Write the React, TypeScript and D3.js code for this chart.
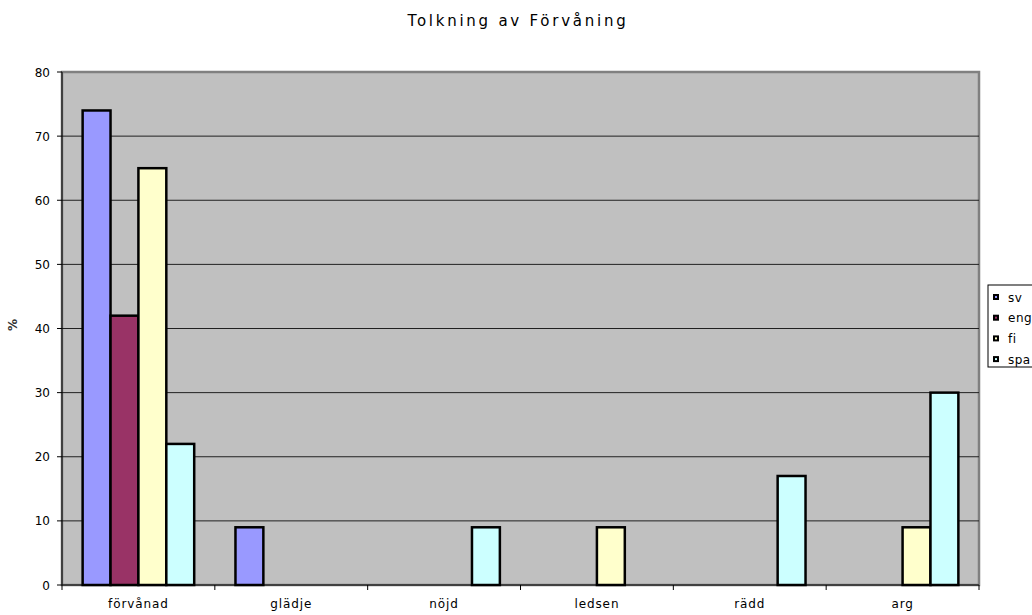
import React from "react";
import * as d3 from "d3";

const categories = ["förvånad", "glädje", "nöjd", "ledsen", "rädd", "arg"];
const seriesNames = ["sv", "eng", "fi", "spa"];
const svValues = [74, 9, 0, 0, 0, 0];
const engValues = [42, 0, 0, 0, 0, 0];
const fiValues = [65, 0, 0, 9, 0, 9];
const spaValues = [22, 0, 9, 0, 17, 30];
const seriesColors = ["#9999FF", "#993366", "#FFFFCC", "#CCFFFF"];
const yTicks = [0, 10, 20, 30, 40, 50, 60, 70, 80];
const titleText = "Tolkning av Förvåning";

const W = 1032;
const H = 615;
const plot = { left: 62, right: 979, top: 72, bottom: 585 };
const font = "Verdana, 'DejaVu Sans', sans-serif";

export default function App() {
  const values = [svValues, engValues, fiValues, spaValues];
  const x0 = d3
    .scaleBand<string>()
    .domain(categories)
    .range([plot.left, plot.right])
    .paddingInner(0)
    .paddingOuter(0);
  const innerPad = 0.27;
  const x1 = d3
    .scaleBand<string>()
    .domain(seriesNames)
    .range([x0.bandwidth() * (innerPad / 2), x0.bandwidth() * (1 - innerPad / 2)]);
  const y = d3.scaleLinear().domain([0, 80]).range([plot.bottom, plot.top]);

  const boundaries = d3.range(categories.length + 1).map((i) => plot.left + i * x0.step());

  return (
    <svg
      width={W}
      height={H}
      style={{ position: "absolute", left: 0, top: 0, background: "#fff" }}
      fontFamily={font}
    >
      <text
        x={518}
        y={26}
        textAnchor="middle"
        fontSize={15}
        letterSpacing={2.75}
        fill="#000"
      >
        {titleText}
      </text>

      {/* plot area */}
      <rect
        x={plot.left}
        y={plot.top}
        width={plot.right - plot.left}
        height={plot.bottom - plot.top}
        fill="#C0C0C0"
        stroke="#808080"
        strokeWidth={2.5}
      />

      {/* gridlines */}
      {yTicks.slice(1, -1).map((t) => (
        <line
          key={"g" + t}
          x1={plot.left}
          x2={plot.right}
          y1={y(t)}
          y2={y(t)}
          stroke="#202020"
          strokeWidth={1}
        />
      ))}

      {/* bars */}
      {categories.map((c, ci) =>
        seriesNames.map((s, si) => {
          const v = values[si][ci];
          if (!v) return null;
          return (
            <rect
              key={c + s}
              x={(x0(c) as number) + (x1(s) as number)}
              y={y(v)}
              width={x1.bandwidth()}
              height={y(0) - y(v)}
              fill={seriesColors[si]}
              stroke="#000"
              strokeWidth={2.5}
            />
          );
        })
      )}

      {/* axes */}
      <line x1={plot.left} x2={plot.left} y1={plot.top} y2={plot.bottom} stroke="#000" strokeWidth={1} />
      <line x1={plot.left} x2={plot.right} y1={plot.bottom} y2={plot.bottom} stroke="#000" strokeWidth={1} />
      {yTicks.map((t) => (
        <g key={"y" + t}>
          <line x1={plot.left - 5} x2={plot.left} y1={y(t)} y2={y(t)} stroke="#000" />
          <text x={50} y={y(t) + 4.5} textAnchor="end" fontSize={12} fill="#000">
            {t}
          </text>
        </g>
      ))}
      {boundaries.map((bx, i) => (
        <line key={"xt" + i} x1={bx} x2={bx} y1={plot.bottom} y2={plot.bottom + 5} stroke="#000" />
      ))}
      {categories.map((c) => (
        <text
          key={"xl" + c}
          x={(x0(c) as number) + x0.bandwidth() / 2}
          y={608}
          textAnchor="middle"
          fontSize={12}
          letterSpacing={0.9}
          fill="#000"
        >
          {c}
        </text>
      ))}

      {/* value axis title */}
      <text
        transform={`translate(17, 325) rotate(-90)`}
        textAnchor="middle"
        fontSize={12}
        fontWeight="bold"
        fill="#333"
      >
        %
      </text>

      {/* legend */}
      <rect x={988} y={285} width={60} height={82} fill="#fff" stroke="#000" strokeWidth={1} />
      {seriesNames.map((s, i) => {
        const ly = 297 + i * 20.7;
        return (
          <g key={"lg" + s}>
            <rect x={994} y={ly - 2} width={4} height={4} fill={seriesColors[i]} stroke="#000" strokeWidth={2} />
            <text x={1008} y={ly + 4.5} fontSize={12} letterSpacing={0.5} fill="#000">
              {s}
            </text>
          </g>
        );
      })}
    </svg>
  );
}
